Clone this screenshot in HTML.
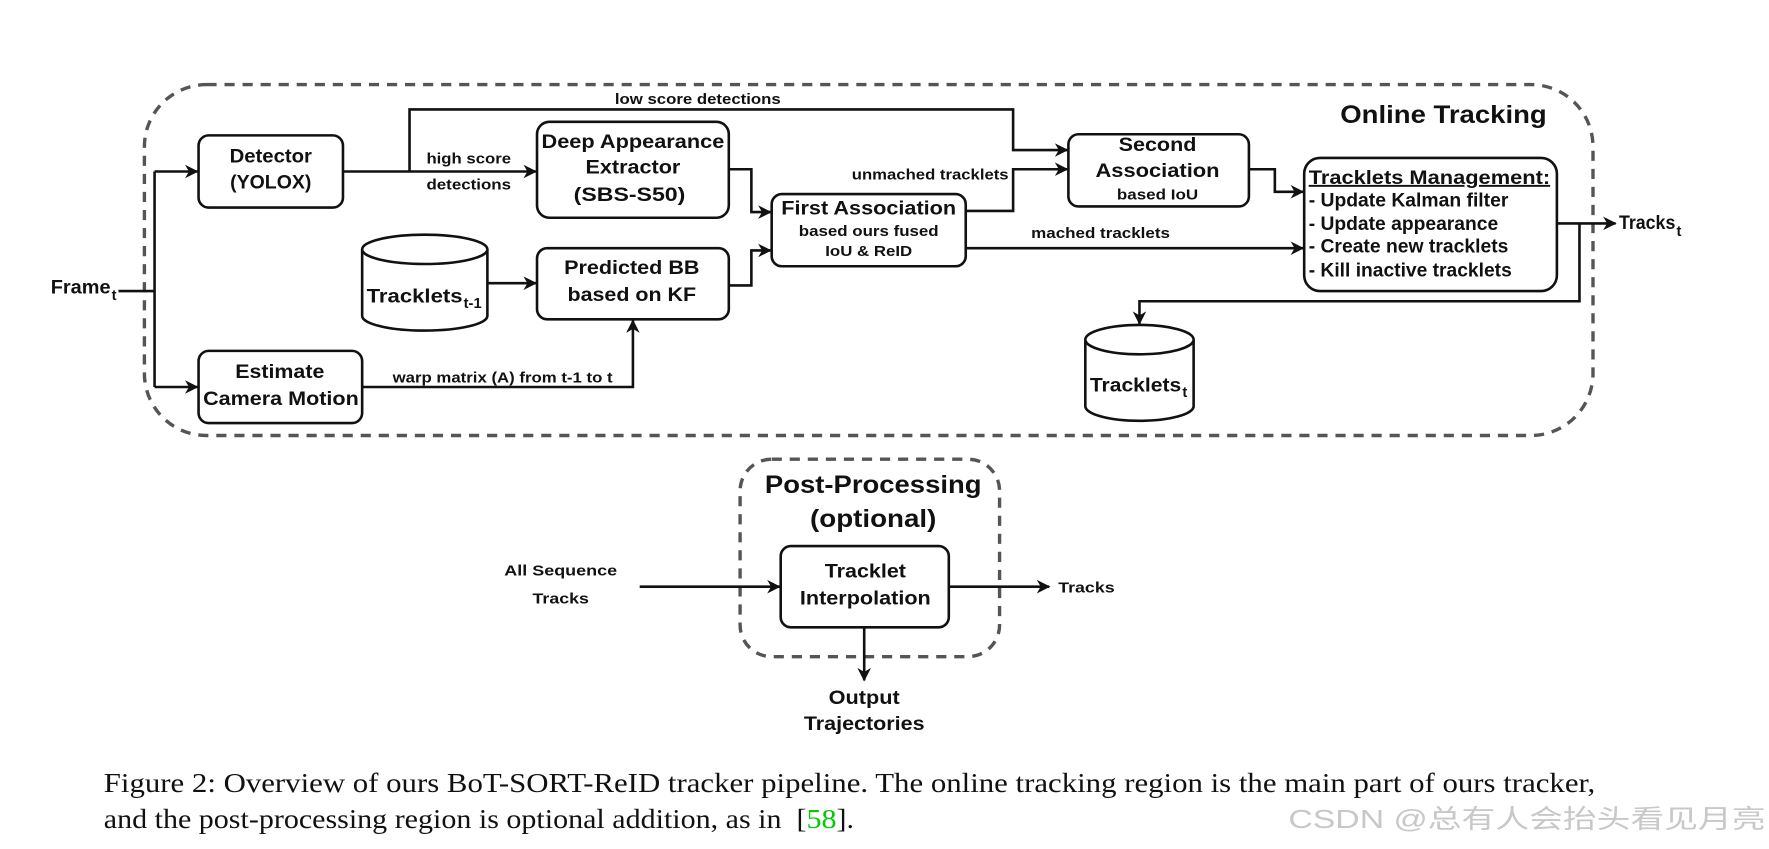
<!DOCTYPE html>
<html><head><meta charset="utf-8"><style>
html,body{margin:0;padding:0;background:#fff;}
svg{display:block;}
text{font-family:"Liberation Sans",Arial,sans-serif;font-weight:bold;fill:#111;}
.c{text-anchor:middle;}
.cap{font-family:"Liberation Serif",serif;font-weight:normal;font-size:24px;}
</style></head><body>
<svg width="1769" height="849" viewBox="0 0 1568 752.5" preserveAspectRatio="none" xmlns="http://www.w3.org/2000/svg">
<defs>
<marker id="a" markerWidth="12" markerHeight="12" refX="11" refY="6" orient="auto" markerUnits="userSpaceOnUse"><path d="M0,0 L12,6 L0,12 L3.5,6 Z" fill="#111"/></marker>
</defs>
<g fill="none" stroke="#555" stroke-width="3" stroke-dasharray="9,7">
<rect x="128" y="75" width="1284" height="311" rx="55"/>
<rect x="656" y="407" width="230" height="175" rx="28"/>
</g>
<g fill="#fff" stroke="#111" stroke-width="2.3">
<rect x="176" y="120" width="128" height="64" rx="9"/>
<rect x="476" y="108" width="170" height="85" rx="11"/>
<rect x="684" y="172" width="172" height="64" rx="9"/>
<rect x="947" y="119" width="160" height="64" rx="9"/>
<rect x="1156" y="140" width="224" height="118" rx="14"/>
<rect x="476" y="220" width="170" height="63" rx="9"/>
<rect x="176" y="311" width="145" height="64" rx="9"/>
<rect x="692" y="484" width="149" height="72" rx="9"/>
<path d="M321,221 L321,280 A55.5,13 0 0 0 432,280 L432,221 A55.5,13 0 0 0 321,221 Z"/>
<path d="M321,221 A55.5,13 0 0 0 432,221"/>
<path d="M962,301 L962,360 A48,13 0 0 0 1058,360 L1058,301 A48,13 0 0 0 962,301 Z"/>
<path d="M962,301 A48,13 0 0 0 1058,301"/>
</g>
<g fill="none" stroke="#111" stroke-width="2.3">
<path d="M105,258 H137"/>
<path d="M137,152 V343"/>
<path d="M137,152 H175" marker-end="url(#a)"/>
<path d="M137,343 H175" marker-end="url(#a)"/>
<path d="M304,152 H475" marker-end="url(#a)"/>
<path d="M363,152 V97 H898 V133 H946" marker-end="url(#a)"/>
<path d="M646,150 H666 V188 H683" marker-end="url(#a)"/>
<path d="M646,253 H666 V222 H683" marker-end="url(#a)"/>
<path d="M432,251 H475" marker-end="url(#a)"/>
<path d="M321,343 H561 V284" marker-end="url(#a)"/>
<path d="M856,187 H898 V150 H946" marker-end="url(#a)"/>
<path d="M856,220 H1155" marker-end="url(#a)"/>
<path d="M1107,150 H1130 V170 H1155" marker-end="url(#a)"/>
<path d="M1380,198 H1432" marker-end="url(#a)"/>
<path d="M1400,198 V267 H1010 V287" marker-end="url(#a)"/>
<path d="M567,520 H691" marker-end="url(#a)"/>
<path d="M841,520 H930" marker-end="url(#a)"/>
<path d="M766,556 V603" marker-end="url(#a)"/>
</g>
<g font-size="17">
<text x="240" y="144" class="c" textLength="73" lengthAdjust="spacingAndGlyphs">Detector</text>
<text x="240" y="167" class="c" textLength="72" lengthAdjust="spacingAndGlyphs">(YOLOX)</text>
<text x="561" y="131" class="c" textLength="162" lengthAdjust="spacingAndGlyphs">Deep Appearance</text>
<text x="561" y="154" class="c" textLength="84" lengthAdjust="spacingAndGlyphs">Extractor</text>
<text x="558" y="178" class="c" textLength="99" lengthAdjust="spacingAndGlyphs">(SBS-S50)</text>
<text x="770" y="190" class="c" textLength="155" lengthAdjust="spacingAndGlyphs">First Association</text>
<text x="1026" y="134" class="c" textLength="69" lengthAdjust="spacingAndGlyphs">Second</text>
<text x="1026" y="157" class="c" textLength="110" lengthAdjust="spacingAndGlyphs">Association</text>
<text x="1160" y="163" textLength="214" lengthAdjust="spacingAndGlyphs" text-decoration="underline">Tracklets Management:</text>
<text x="1160" y="183" textLength="177" lengthAdjust="spacingAndGlyphs">- Update Kalman filter</text>
<text x="1160" y="204" textLength="168" lengthAdjust="spacingAndGlyphs">- Update appearance</text>
<text x="1160" y="224" textLength="177" lengthAdjust="spacingAndGlyphs">- Create new tracklets</text>
<text x="1160" y="245" textLength="180" lengthAdjust="spacingAndGlyphs">- Kill inactive tracklets</text>
<text x="560" y="243" class="c" textLength="120" lengthAdjust="spacingAndGlyphs">Predicted BB</text>
<text x="560" y="267" class="c" textLength="114" lengthAdjust="spacingAndGlyphs">based on KF</text>
<text x="325" y="268" textLength="85" lengthAdjust="spacingAndGlyphs">Tracklets</text>
<text x="411" y="273" font-size="13">t-1</text>
<text x="248" y="335" class="c" textLength="79" lengthAdjust="spacingAndGlyphs">Estimate</text>
<text x="249" y="359" class="c" textLength="138" lengthAdjust="spacingAndGlyphs">Camera Motion</text>
<text x="966" y="347" textLength="81" lengthAdjust="spacingAndGlyphs">Tracklets</text>
<text x="1048" y="352" font-size="13">t</text>
<text x="45" y="260" textLength="53" lengthAdjust="spacingAndGlyphs">Frame</text>
<text x="99" y="266" font-size="13">t</text>
<text x="1435" y="203" textLength="50" lengthAdjust="spacingAndGlyphs">Tracks</text>
<text x="1486" y="209" font-size="13">t</text>
<text x="767" y="512" class="c" textLength="72" lengthAdjust="spacingAndGlyphs">Tracklet</text>
<text x="767" y="536" class="c" textLength="116" lengthAdjust="spacingAndGlyphs">Interpolation</text>
<text x="766" y="624" class="c" textLength="63" lengthAdjust="spacingAndGlyphs">Output</text>
<text x="766" y="647" class="c" textLength="107" lengthAdjust="spacingAndGlyphs">Trajectories</text>
</g>
<g font-size="13">
<text x="770" y="209" class="c" textLength="124" lengthAdjust="spacingAndGlyphs">based ours fused</text>
<text x="770" y="227" class="c" textLength="77" lengthAdjust="spacingAndGlyphs">IoU &amp; ReID</text>
<text x="1026" y="177" class="c" textLength="72" lengthAdjust="spacingAndGlyphs">based IoU</text>
<text x="545" y="92" textLength="147" lengthAdjust="spacingAndGlyphs">low score detections</text>
<text x="378" y="145" textLength="75" lengthAdjust="spacingAndGlyphs">high score</text>
<text x="378" y="168" textLength="75" lengthAdjust="spacingAndGlyphs">detections</text>
<text x="755" y="159" textLength="139" lengthAdjust="spacingAndGlyphs">unmached tracklets</text>
<text x="914" y="211" textLength="123" lengthAdjust="spacingAndGlyphs">mached tracklets</text>
<text x="348" y="339" textLength="195" lengthAdjust="spacingAndGlyphs">warp matrix (A) from t-1 to t</text>
<text x="497" y="510" class="c" textLength="100" lengthAdjust="spacingAndGlyphs">All Sequence</text>
<text x="497" y="535" class="c" textLength="50" lengthAdjust="spacingAndGlyphs">Tracks</text>
<text x="938" y="525" textLength="50" lengthAdjust="spacingAndGlyphs">Tracks</text>
</g>
<g font-size="22">
<text x="1188" y="109" textLength="183" lengthAdjust="spacingAndGlyphs">Online Tracking</text>
<text x="774" y="437" class="c" textLength="192" lengthAdjust="spacingAndGlyphs">Post-Processing</text>
<text x="774" y="467" class="c" textLength="112" lengthAdjust="spacingAndGlyphs">(optional)</text>
</g>
<text class="cap" x="92" y="702" textLength="1322" lengthAdjust="spacingAndGlyphs">Figure 2: Overview of ours BoT-SORT-ReID tracker pipeline. The online tracking region is the main part of ours tracker,</text>
<text class="cap" x="92" y="734" textLength="665" lengthAdjust="spacingAndGlyphs" xml:space="preserve">and the post-processing region is optional addition, as in  [<tspan fill="#00cc00">58</tspan>].</text>
<text x="1142" y="734" font-size="23" style="font-family:'Liberation Sans','Noto Sans CJK SC',sans-serif;font-weight:normal;fill:#c8c8c8" textLength="423" lengthAdjust="spacingAndGlyphs">CSDN @总有人会抬头看见月亮</text>
</svg>
</body></html>
